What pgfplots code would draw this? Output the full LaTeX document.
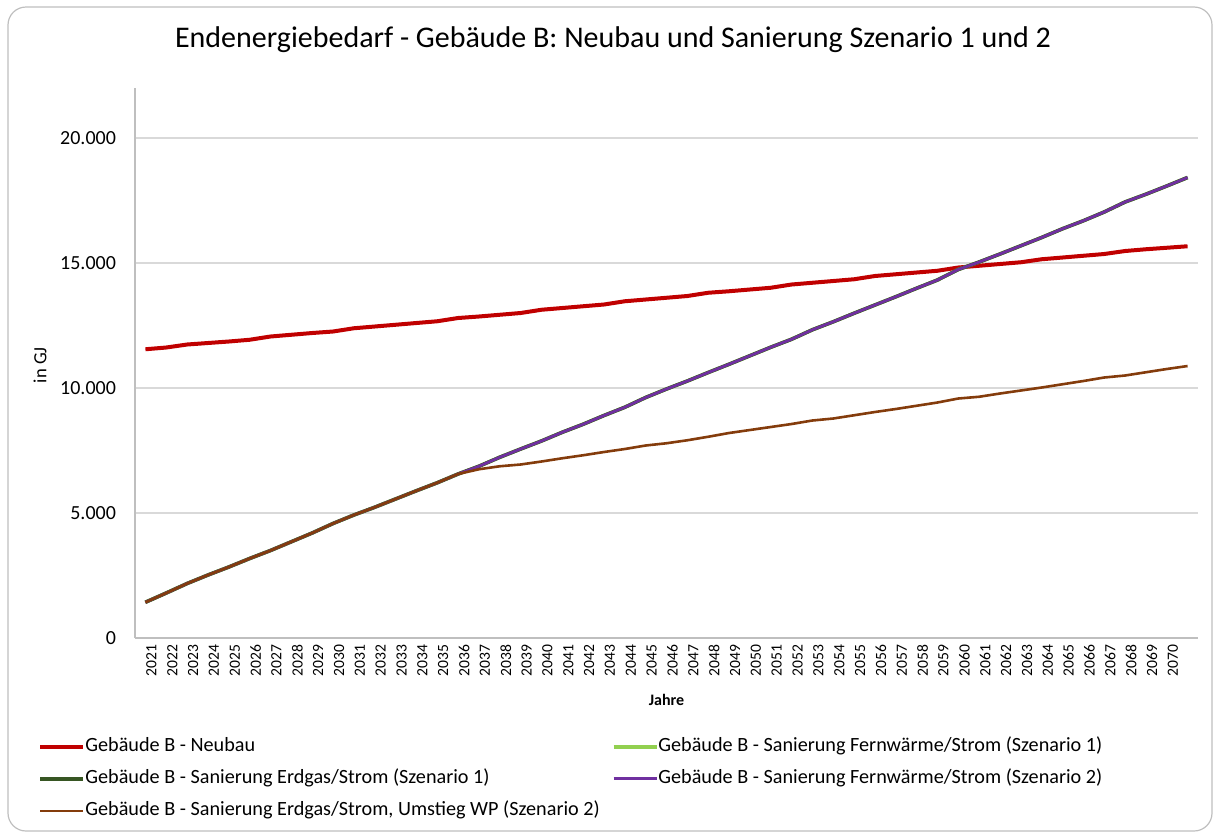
\documentclass[border=0pt]{standalone}
\usepackage{pgfplots}
\pgfplotsset{compat=1.18}
\usepackage{pgfplotstable}
\usepackage{fontspec}
\setmainfont{Carlito}
\definecolor{cRed}{HTML}{C00000}
\definecolor{cLGreen}{HTML}{92D050}
\definecolor{cDGreen}{HTML}{375623}
\definecolor{cPurple}{HTML}{7030A0}
\definecolor{cBrown}{HTML}{843C0C}
\definecolor{cGrid}{HTML}{D9D9D9}
\definecolor{cAxis}{HTML}{BFBFBF}
\pgfplotstableread{
i neubau san wp
0 11550 1430 1430
1 11620 1800 1800
2 11740 2180 2180
3 11800 2520 2520
4 11860 2840 2840
5 11930 3180 3180
6 12060 3500 3500
7 12130 3850 3850
8 12200 4200 4200
9 12260 4580 4580
10 12390 4920 4920
11 12460 5230 5230
12 12530 5560 5560
13 12600 5890 5890
14 12670 6210 6210
15 12800 6560 6560
16 12860 6870 6750
17 12930 7230 6870
18 13000 7560 6940
19 13130 7880 7060
20 13200 8230 7190
21 13270 8550 7310
22 13340 8900 7440
23 13470 9230 7560
24 13540 9620 7700
25 13610 9960 7790
26 13680 10280 7910
27 13810 10620 8050
28 13870 10950 8200
29 13940 11290 8320
30 14010 11630 8440
31 14140 11950 8560
32 14210 12330 8700
33 14280 12650 8780
34 14350 12990 8910
35 14480 13320 9040
36 14550 13650 9160
37 14620 13990 9290
38 14690 14320 9420
39 14820 14740 9580
40 14890 15040 9650
41 14960 15360 9780
42 15030 15690 9900
43 15150 16020 10020
44 15220 16370 10150
45 15290 16690 10280
46 15360 17040 10420
47 15480 17440 10500
48 15550 17750 10630
49 15610 18080 10760
50 15670 18420 10880
}\datatable
\begin{document}
\begin{tikzpicture}
\useasboundingbox (0,0) rectangle (609.5pt,-418pt);
\draw[cAxis, line width=0.6pt, rounded corners=9pt] (4pt,-3.5pt) rectangle (606pt,-415.5pt);
\node[anchor=base, font=\fontsize{15}{18}\selectfont, inner sep=0pt] at (306.5pt,-23.5pt)
  {Endenergiebedarf - Gebäude B: Neubau und Sanierung Szenario 1 und 2};
\begin{axis}[
  at={(67.5pt,-44pt)}, anchor=north west,
  width=531.5pt, height=275pt, scale only axis,
  xmin=-0.5, xmax=50.5, ymin=0, ymax=22000,
  axis x line*=bottom, axis y line*=left,
  axis line style={cAxis, line width=0.6pt},
  major tick length=0pt,
  xtick={0,...,49},
  xticklabels={2021,2022,2023,2024,2025,2026,2027,2028,2029,2030,2031,2032,2033,2034,2035,2036,2037,2038,2039,2040,2041,2042,2043,2044,2045,2046,2047,2048,2049,2050,2051,2052,2053,2054,2055,2056,2057,2058,2059,2060,2061,2062,2063,2064,2065,2066,2067,2068,2069,2070},
  xticklabel style={rotate=90, anchor=east, font=\fontsize{7.8}{9}\selectfont, yshift=-3pt, text=black},
  ytick={0,5000,10000,15000,20000},
  scaled y ticks=false,
  yticklabel style={font=\fontsize{10}{12}\selectfont, xshift=-6pt,
    /pgf/number format/fixed, /pgf/number format/1000 sep={.}, /pgf/number format/assume math mode=true},
  ymajorgrids, grid style={cGrid, line width=0.6pt},
  xlabel={\textbf{Jahre}},
  xlabel style={at={(axis description cs:0.5,0)}, anchor=center, yshift=-31pt, font=\fontsize{8}{10}\selectfont},
  ylabel={in GJ},
  ylabel style={at={(axis description cs:-0.0894,0.496)}, anchor=center, font=\fontsize{9.3}{11}\selectfont},
  legend columns=2,
  legend cell align=left,
  legend style={at={(axis description cs:-0.0913,-0.168)}, anchor=north west,
    draw=none, fill=none, inner sep=0pt,
    font=\fontsize{10.1}{12.2}\selectfont,
    nodes={inner xsep=0pt, inner ysep=2.5pt, text height=8pt, text depth=3pt},
    /tikz/column 2/.style={column sep=6pt}},
  legend image code/.code={\draw[#1] (0pt,0pt) -- (21.5pt,0pt);},
]
\addplot[cRed, line width=2pt, line join=round] table[x=i, y=neubau] {\datatable};
\addlegendentry{Gebäude B - Neubau}
\addplot[cLGreen, line width=1.8pt, line join=round] table[x=i, y=san] {\datatable};
\addlegendentry{Gebäude B - Sanierung Fernwärme/Strom (Szenario 1)}
\addplot[cDGreen, line width=1.8pt, line join=round] table[x=i, y=san] {\datatable};
\addlegendentry{Gebäude B - Sanierung Erdgas/Strom (Szenario 1)}
\addplot[cPurple, line width=1.4pt, line join=round] table[x=i, y=san] {\datatable};
\addlegendentry{Gebäude B - Sanierung Fernwärme/Strom (Szenario 2)}
\addplot[cBrown, line width=1.3pt, line join=round] table[x=i, y=wp] {\datatable};
\addlegendentry{Gebäude B - Sanierung Erdgas/Strom, Umstieg WP (Szenario 2)}
\end{axis}
\end{tikzpicture}
\end{document}
